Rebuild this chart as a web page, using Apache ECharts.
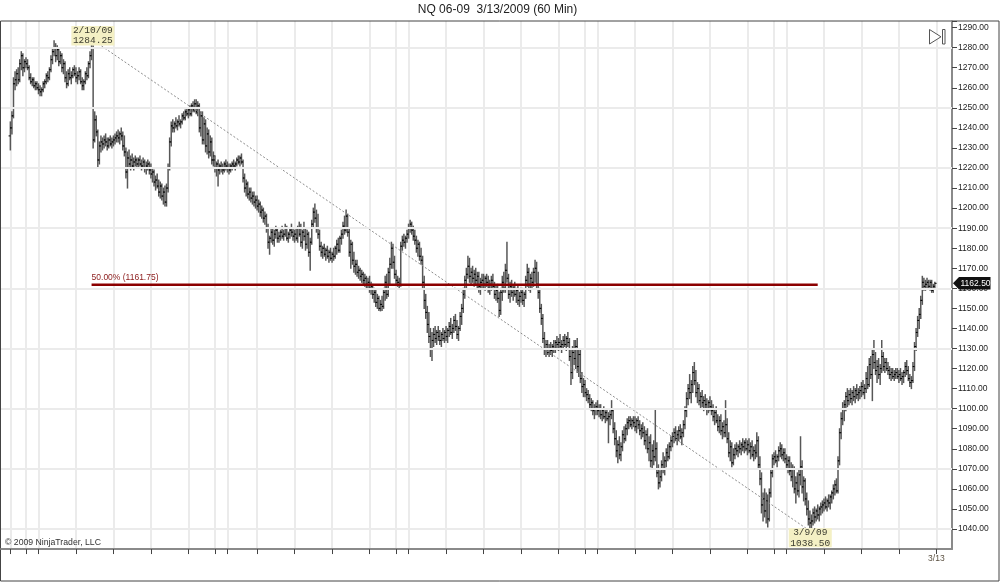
<!DOCTYPE html>
<html><head><meta charset="utf-8">
<script src="https://cdn.jsdelivr.net/npm/echarts/dist/echarts.min.js"></script>
<style>html,body{margin:0;padding:0;background:#fff}#c{width:1000px;height:582px}</style>
</head><body><div id="c"></div>
<script>
// 60-minute OHLC bars, one array per session day: [open, high, low, close]
const d0206 = [[1236,1243,1229,1240],[1240,1248,1237,1246],[1246,1265,1245,1262],[1262,1268,1259,1264],[1264,1269,1261,1267],[1267,1270,1262,1264],[1264,1274,1263,1272],[1272,1278,1269,1276],[1276,1277,1266,1270],[1270,1274,1268,1273]];
const d0208 = [[1273,1275,1270,1272],[1272,1274,1269,1270],[1270,1271,1264,1265],[1265,1267,1262,1263],[1263,1265,1261,1264],[1264,1265,1260,1261],[1261,1263,1259,1262],[1262,1263,1259,1260]];
const d0209 = [[1260,1262,1257,1259],[1259,1261,1256,1258],[1258,1260,1256,1259],[1259,1263,1258,1262],[1262,1264,1260,1263],[1263,1267,1262,1266],[1266,1268,1263,1265],[1265,1270,1264,1269],[1269,1276,1268,1274],[1274,1280,1272,1278],[1278,1283.5,1276,1280],[1280,1282,1273,1276],[1276,1281,1274,1279],[1279,1280,1271,1273],[1273,1278,1272,1276],[1276,1277,1268,1270],[1270,1274,1267,1272],[1272,1273,1263,1265],[1265,1268,1260,1262],[1262,1269,1261,1267],[1267,1270,1264,1265],[1265,1268,1262,1266],[1266,1270,1265,1269],[1269,1271,1266,1267]];
const d0210 = [[1267,1270,1263,1265],[1265,1268,1262,1266],[1266,1270,1264,1268],[1268,1269,1262,1263],[1263,1265,1259,1261],[1261,1264,1259,1263],[1263,1268,1262,1267],[1267,1270,1264,1266],[1266,1273,1265,1272],[1272,1278,1270,1276],[1276,1284.25,1274,1280],[1280,1281,1230,1234],[1234,1248,1233,1244],[1244,1246,1236,1238],[1238,1239,1220,1224],[1224,1233,1222,1231],[1231,1236,1228,1233],[1233,1235,1229,1232],[1232,1236,1230,1234],[1234,1237,1231,1233],[1233,1235,1229,1231],[1231,1235,1230,1234],[1234,1236,1231,1232],[1232,1235,1230,1233]];
const d0211 = [[1233,1236,1231,1234],[1234,1237,1232,1235],[1235,1238,1233,1236],[1236,1239,1233,1235],[1235,1238,1232,1237],[1237,1240,1234,1236],[1236,1238,1229,1231],[1231,1236,1226,1228],[1228,1230,1215,1218],[1218,1228,1210,1225],[1225,1229,1220,1222],[1222,1226,1219,1224],[1224,1227,1220,1221],[1221,1225,1219,1223],[1223,1226,1221,1224],[1224,1225,1220,1222],[1222,1225,1220,1224],[1224,1226,1221,1222],[1222,1224,1219,1221],[1221,1225,1220,1223],[1223,1224,1218,1220],[1220,1223,1217,1221],[1221,1224,1219,1222],[1222,1223,1217,1219]];
const d0212 = [[1219,1222,1215,1217],[1217,1220,1213,1218],[1218,1219,1211,1213],[1213,1216,1209,1214],[1214,1217,1210,1211],[1211,1214,1206,1208],[1208,1213,1205,1211],[1211,1212,1204,1206],[1206,1210,1202,1208],[1208,1211,1201,1203],[1203,1212,1201,1210],[1210,1222,1208,1220],[1220,1235,1219,1233],[1233,1243,1231,1241],[1241,1244,1238,1240],[1240,1243,1238,1242],[1242,1245,1240,1241],[1241,1244,1239,1243],[1243,1246,1241,1242],[1242,1244,1240,1243],[1243,1247,1242,1246],[1246,1248,1244,1245],[1245,1249,1244,1248],[1248,1250,1246,1247]];
const d0213 = [[1247,1250,1245,1249],[1249,1251,1246,1247],[1247,1252,1246,1251],[1251,1253,1248,1249],[1249,1254,1248,1252],[1252,1254,1247,1248],[1248,1253,1246,1251],[1251,1252,1238,1240],[1240,1248,1236,1246],[1246,1248,1232,1234],[1234,1245,1232,1242],[1242,1244,1228,1231],[1231,1240,1227,1237],[1237,1239,1225,1228],[1228,1236,1226,1233],[1233,1235,1222,1224],[1224,1228,1221,1226]];
const d0215 = [[1224,1226,1218,1220],[1220,1223,1216,1222],[1222,1224,1211,1219],[1219,1222,1217,1221],[1221,1223,1218,1220],[1220,1222,1217,1219],[1219,1223,1218,1222],[1222,1224,1219,1221]];
const d0216 = [[1221,1223,1218,1220],[1220,1222,1217,1219],[1219,1222,1218,1221],[1221,1223,1219,1222],[1222,1224,1220,1221],[1221,1223,1219,1222],[1222,1225,1221,1224],[1224,1226,1222,1223],[1223,1226,1221,1225],[1225,1227,1222,1223],[1223,1224,1213,1215],[1215,1217,1208,1210],[1210,1214,1206,1212],[1212,1213,1205,1207],[1207,1210,1204,1208],[1208,1210,1203,1205],[1205,1208,1202,1206],[1206,1208,1201,1203],[1203,1206,1200,1204]];
const d0217 = [[1204,1206,1199,1201],[1201,1204,1198,1202],[1202,1203,1196,1198],[1198,1201,1195,1199],[1199,1200,1193,1195],[1195,1198,1192,1196],[1196,1197,1188,1190],[1190,1192,1180,1183],[1183,1186,1177,1185],[1185,1190,1183,1188],[1188,1190,1182,1184],[1184,1189,1181,1187],[1187,1191,1185,1189],[1189,1190,1183,1185],[1185,1188,1183,1186],[1186,1189,1184,1188],[1188,1191,1185,1186],[1186,1189,1184,1187],[1187,1192,1186,1190],[1190,1191,1184,1185],[1185,1188,1183,1187],[1187,1190,1185,1189],[1189,1192,1186,1188],[1188,1190,1184,1186]];
const d0218 = [[1186,1189,1183,1187],[1187,1190,1184,1185],[1185,1191,1183,1190],[1190,1193,1186,1187],[1187,1192,1181,1183],[1183,1189,1180,1188],[1188,1193,1184,1186],[1186,1190,1179,1182],[1182,1189,1180,1187],[1187,1188,1176,1178],[1178,1185,1169,1183],[1183,1194,1182,1192],[1192,1200,1190,1198],[1198,1202,1193,1195],[1195,1199,1188,1190],[1190,1197,1185,1187],[1187,1189,1179,1181],[1181,1183,1176,1178],[1178,1181,1175,1180],[1180,1182,1176,1177],[1177,1180,1174,1179],[1179,1181,1175,1176],[1176,1179,1173,1178],[1178,1180,1174,1175]];
const d0219 = [[1175,1178,1173,1177],[1177,1180,1174,1176],[1176,1181,1175,1180],[1180,1184,1177,1182],[1182,1185,1178,1179],[1179,1186,1178,1185],[1185,1189,1182,1187],[1187,1193,1185,1191],[1191,1196,1187,1189],[1189,1199,1188,1196],[1196,1197,1186,1188],[1188,1190,1176,1178],[1178,1184,1170,1182],[1182,1183,1172,1174],[1174,1178,1168,1171],[1171,1174,1167,1172],[1172,1174,1166,1168],[1168,1171,1165,1169],[1169,1170,1164,1166],[1166,1169,1163,1167],[1167,1168,1162,1164],[1164,1167,1161,1165],[1165,1166,1160,1162],[1162,1165,1160,1163]];
const d0220 = [[1163,1166,1158,1160],[1160,1163,1157,1161],[1161,1162,1155,1157],[1157,1160,1153,1158],[1158,1159,1151,1153],[1153,1157,1150,1155],[1155,1156,1149,1150],[1150,1154,1148.75,1152],[1152,1156,1149,1151],[1151,1160,1150,1158],[1158,1166,1154,1163],[1163,1167,1155,1157],[1157,1170,1156,1168],[1168,1175,1162,1172],[1172,1183,1170,1180],[1180,1182,1170,1173],[1173,1176,1165,1167]];
const d0222 = [[1167,1169,1162,1164],[1164,1166,1161,1163],[1163,1165,1160,1162],[1162,1183,1161,1181],[1181,1186,1179,1184],[1184,1187,1181,1183],[1183,1186,1180,1185],[1185,1189,1183,1187]];
const d0223 = [[1187,1192,1185,1190],[1190,1194,1188,1192],[1192,1193,1187,1189],[1189,1191,1184,1186],[1186,1189,1182,1184],[1184,1186,1178,1180],[1180,1184,1176,1182],[1182,1183,1174,1176],[1176,1180,1172,1174],[1174,1176,1160,1163],[1163,1166,1150,1154],[1154,1157,1145,1148],[1148,1151,1138,1142],[1142,1148,1133,1136],[1136,1140,1126,1130],[1130,1138,1124,1134],[1134,1140,1131,1137],[1137,1141,1133,1135],[1135,1139,1132,1138],[1138,1141,1134,1136],[1136,1139,1132,1134],[1134,1138,1131,1137],[1137,1140,1134,1135],[1135,1139,1133,1138]];
const d0224 = [[1138,1141,1134,1136],[1136,1140,1133,1139],[1139,1143,1136,1141],[1141,1145,1137,1138],[1138,1142,1135,1140],[1140,1146,1138,1144],[1144,1147,1139,1141],[1141,1144,1135,1137],[1137,1141,1134,1140],[1140,1148,1139,1146],[1146,1152,1142,1150],[1150,1160,1148,1157],[1157,1166,1155,1164],[1164,1170,1160,1167],[1167,1176,1165,1171],[1171,1175,1163,1166],[1166,1170,1162,1168],[1168,1171,1163,1165],[1165,1169,1161,1167],[1167,1170,1162,1164],[1164,1168,1160,1166],[1166,1168,1158,1161],[1161,1165,1157,1163],[1163,1167,1160,1164]];
const d0225 = [[1164,1167,1160,1162],[1162,1166,1159,1165],[1165,1167,1161,1163],[1163,1166,1158,1160],[1160,1164,1157,1162],[1162,1166,1159,1164],[1164,1167,1160,1161],[1161,1163,1155,1157],[1157,1161,1154,1159],[1159,1162,1153,1155],[1155,1158,1146,1149],[1149,1160,1147,1158],[1158,1166,1154,1163],[1163,1168,1158,1160],[1160,1172,1158,1169],[1169,1183,1163,1165],[1165,1167,1155,1157],[1157,1163,1153,1161],[1161,1164,1156,1158],[1158,1161,1154,1160],[1160,1163,1156,1157],[1157,1160,1153,1159],[1159,1161,1152,1154],[1154,1158,1151,1156]];
const d0226 = [[1156,1160,1153,1158],[1158,1160,1152,1154],[1154,1158,1151,1157],[1157,1166,1155,1164],[1164,1172,1161,1168],[1168,1170,1159,1162],[1162,1167,1158,1165],[1165,1168,1160,1163],[1163,1170,1161,1168],[1168,1174,1163,1170],[1170,1173,1160,1162],[1162,1168,1155,1158],[1158,1160,1148,1150],[1150,1152,1142,1145],[1145,1147,1133,1135],[1135,1138,1127,1130],[1130,1134,1126,1132],[1132,1134,1127,1128],[1128,1132,1126,1130],[1130,1133,1127,1129],[1129,1132,1126,1131],[1131,1134,1128,1130],[1130,1134,1128,1133],[1133,1136,1130,1132]];
const d0227 = [[1132,1135,1129,1133],[1133,1137,1130,1131],[1131,1134,1128,1132],[1132,1136,1130,1134],[1134,1137,1131,1132],[1132,1136,1129,1135],[1135,1138,1131,1133],[1133,1135,1124,1126],[1126,1130,1112,1118],[1118,1131,1115,1128],[1128,1134,1122,1125],[1125,1134,1120,1131],[1131,1135,1118,1121],[1121,1130,1116,1127],[1127,1129,1113,1115],[1115,1118,1108,1111],[1111,1115,1106,1112]];
const d0301 = [[1112,1114,1106,1108],[1108,1110,1104,1107],[1107,1109,1103,1105],[1105,1107,1100,1102],[1102,1105,1099,1103],[1103,1104,1097,1099],[1099,1102,1095,1100],[1100,1103,1097,1101]];
const d0302 = [[1101,1104,1097,1099],[1099,1102,1096,1100],[1100,1102,1095,1097],[1097,1100,1094,1099],[1099,1101,1095,1096],[1096,1099,1093,1098],[1098,1100,1094,1095],[1095,1098,1083,1096],[1096,1099,1092,1097],[1097,1104,1095,1099],[1099,1100,1088,1090],[1090,1093,1082,1085],[1085,1089,1076,1079],[1079,1084,1073,1082],[1082,1086,1075,1077],[1077,1083,1074,1081],[1081,1089,1079,1087],[1087,1091,1083,1085],[1085,1092,1084,1090],[1090,1095,1087,1093],[1093,1096,1090,1094],[1094,1096,1091,1092],[1092,1095,1090,1094],[1094,1096,1091,1093]];
const d0303 = [[1093,1096,1089,1091],[1091,1095,1088,1094],[1094,1096,1090,1092],[1092,1094,1087,1089],[1089,1092,1085,1090],[1090,1093,1086,1088],[1088,1091,1082,1084],[1084,1089,1080,1087],[1087,1090,1078,1080],[1080,1086,1074,1083],[1083,1087,1071,1074],[1074,1082,1070,1079],[1079,1084,1072,1076],[1076,1100,1074,1080],[1080,1083,1066,1068],[1068,1072,1060,1063],[1063,1069,1061,1066],[1066,1074,1064,1072],[1072,1078,1068,1070],[1070,1076,1067,1074],[1074,1080,1071,1078],[1078,1082,1074,1076],[1076,1083,1075,1081],[1081,1086,1079,1084]];
const d0304 = [[1084,1088,1081,1086],[1086,1090,1083,1088],[1088,1091,1084,1085],[1085,1089,1082,1087],[1087,1091,1084,1089],[1089,1092,1085,1086],[1086,1090,1082,1088],[1088,1094,1086,1092],[1092,1101,1090,1099],[1099,1108,1096,1105],[1105,1112,1102,1110],[1110,1117,1105,1108],[1108,1114,1103,1112],[1112,1121,1108,1118],[1118,1123,1112,1114],[1114,1119,1106,1108],[1108,1113,1103,1110],[1110,1112,1102,1104],[1104,1108,1100,1106],[1106,1109,1101,1103],[1103,1106,1099,1104],[1104,1107,1100,1102],[1102,1105,1097,1100],[1100,1104,1098,1103]];
const d0305 = [[1103,1106,1099,1101],[1101,1104,1097,1099],[1099,1102,1094,1096],[1096,1100,1092,1098],[1098,1101,1093,1094],[1094,1097,1089,1091],[1091,1096,1088,1094],[1094,1097,1087,1089],[1089,1093,1085,1091],[1091,1094,1086,1088],[1088,1104,1086,1092],[1092,1095,1083,1085],[1085,1088,1076,1078],[1078,1084,1074,1081],[1081,1083,1071,1073],[1073,1080,1072,1077],[1077,1082,1075,1080],[1080,1083,1077,1079],[1079,1082,1076,1081],[1081,1084,1078,1080],[1080,1083,1077,1082],[1082,1085,1079,1081],[1081,1084,1078,1083],[1083,1085,1079,1080]];
const d0306 = [[1080,1084,1077,1082],[1082,1085,1078,1079],[1079,1083,1075,1081],[1081,1084,1076,1077],[1077,1081,1074,1079],[1079,1082,1075,1078],[1078,1088,1076,1084],[1084,1086,1070,1072],[1072,1076,1062,1065],[1065,1068,1048,1052],[1052,1058,1044,1055],[1055,1060,1046,1049],[1049,1058,1043,1054],[1054,1057,1041,1045],[1045,1060,1044,1058],[1058,1070,1056,1068],[1068,1077,1066,1075]];
const d0308 = [[1075,1078,1072,1076],[1076,1079,1073,1074],[1074,1077,1071,1076],[1076,1081,1074,1079],[1079,1083,1076,1080],[1080,1082,1075,1077],[1077,1080,1074,1078],[1078,1080,1073,1075]];
const d0309 = [[1075,1077,1070,1072],[1072,1076,1068,1074],[1074,1076,1067,1069],[1069,1073,1064,1066],[1066,1072,1061,1070],[1070,1071,1058,1060],[1060,1066,1053,1063],[1063,1068,1057,1059],[1059,1070,1056,1067],[1067,1086,1062,1071],[1071,1074,1058,1061],[1061,1066,1054,1064],[1064,1065,1052,1055],[1055,1058,1047,1050],[1050,1054,1042,1045],[1045,1049,1040,1043],[1043,1047,1038.5,1044],[1044,1050,1042,1048],[1048,1051,1043,1046],[1046,1050,1044,1049],[1049,1052,1045,1047],[1047,1051,1044,1050],[1050,1053,1047,1051],[1051,1054,1048,1052]];
const d0310 = [[1052,1055,1049,1053],[1053,1056,1050,1051],[1051,1055,1049,1054],[1054,1057,1051,1053],[1053,1057,1050,1056],[1056,1059,1053,1058],[1058,1062,1055,1060],[1060,1064,1057,1062],[1062,1065,1058,1059],[1059,1076,1058,1074],[1074,1090,1072,1088],[1088,1098,1085,1095],[1095,1103,1092,1100],[1100,1104,1094,1102],[1102,1108,1099,1106],[1106,1110,1101,1104],[1104,1109,1102,1107],[1107,1110,1103,1105],[1105,1109,1102,1108],[1108,1111,1104,1106],[1106,1110,1103,1109],[1109,1112,1105,1107],[1107,1110,1104,1108],[1108,1111,1105,1109]];
const d0311 = [[1109,1113,1106,1111],[1111,1114,1107,1108],[1108,1112,1105,1110],[1110,1118,1108,1115],[1115,1121,1110,1112],[1112,1125,1111,1122],[1122,1126,1115,1117],[1117,1130,1104,1127],[1127,1134,1120,1123],[1123,1128,1117,1119],[1119,1124,1113,1121],[1121,1125,1115,1117],[1117,1122,1112,1120],[1120,1134,1118,1126],[1126,1128,1119,1121],[1121,1125,1118,1123],[1123,1125,1119,1120],[1120,1123,1117,1119],[1119,1121,1115,1117],[1117,1120,1114,1118],[1118,1120,1115,1116],[1116,1119,1114,1117],[1117,1120,1115,1118],[1118,1120,1115,1116]];
const d0312 = [[1116,1119,1113,1117],[1117,1120,1114,1115],[1115,1118,1112,1116],[1116,1119,1113,1118],[1118,1123,1116,1121],[1121,1124,1117,1119],[1119,1121,1114,1115],[1115,1117,1111,1113],[1113,1116,1110,1114],[1114,1123,1113,1121],[1121,1133,1119,1131],[1131,1140,1129,1138],[1138,1146,1136,1144],[1144,1150,1140,1147],[1147,1156,1145,1154],[1154,1166,1152,1163],[1163,1165,1159,1161],[1161,1164,1159,1162],[1162,1165,1160,1163],[1163,1164,1160,1161],[1161,1164,1159,1163],[1163,1164,1158,1159],[1159,1162,1158,1161],[1161,1163,1160,1162.5]];

const sessions = [d0206,d0208,d0209,d0210,d0211,d0212,d0213,d0215,d0216,d0217,d0218,d0219,d0220,d0222,d0223,d0224,d0225,d0226,d0227,d0301,d0302,d0303,d0304,d0305,d0306,d0308,d0309,d0310,d0311,d0312];
const endTickLabel = '3/13';

// annotations
const swingHigh = {bar: 52, value: 1284.25, date: '2/10/09', text: '1284.25'};
const swingLow  = {bar: 513, value: 1038.5, date: '3/9/09', text: '1038.50'};
const fibLevel = 1161.75, fibLabel = '50.00% (1161.75)', fibEndBar = 517;
const gridLevels = [1040,1070,1100,1130,1160,1190,1220,1250,1280];
const lastPriceText = '1162.50';

// axis layout: leading/trailing empty slots on the time axis
const leadSlots = 6, totalSlots = 610;

const bars = [];
const tickSlots = [];
let k = leadSlots;
sessions.forEach(s => { tickSlots.push(k); s.forEach(b => { bars.push([k, b[0], b[1], b[2], b[3]]); k++; }); });
tickSlots.push(k);
const labelSlot = k;
const tickSet = new Set(tickSlots);
const cats = [];
for (let i = 0; i < totalSlots; i++) cats.push(String(i));
const lastClose = bars[bars.length - 1][4];

const FONT = 'Liberation Sans, Arial, sans-serif';

function renderOHLC(params, api) {
  const x0 = api.value(0);
  const pH = api.coord([x0, api.value(2)]);
  const pL = api.coord([x0, api.value(3)]);
  const yO = api.coord([x0, api.value(1)])[1];
  const yC = api.coord([x0, api.value(4)])[1];
  const x = pH[0];
  return {type: 'group', children: [
    {type: 'line', shape: {x1: x, y1: pH[1] - 0.5, x2: x, y2: pL[1] + 0.5}, style: {stroke: '#575757', lineWidth: 1.5}},
    {type: 'line', shape: {x1: x - 1.8, y1: yO, x2: x, y2: yO}, style: {stroke: '#000', lineWidth: 1}},
    {type: 'line', shape: {x1: x, y1: yC, x2: x + 1.8, y2: yC}, style: {stroke: '#000', lineWidth: 1}}
  ]};
}

const chart = echarts.init(document.getElementById('c'), null, {renderer: 'canvas'});
chart.setOption({
  animation: false,
  backgroundColor: '#fff',
  grid: {left: 1, right: 48, top: 21, bottom: 32.95, containLabel: false},
  xAxis: {
    type: 'category', data: cats, boundaryGap: false,
    axisLine: {show: true, lineStyle: {color: '#8a8a8a', width: 2}},
    axisTick: {show: true, length: 5, interval: (i) => tickSet.has(i), lineStyle: {color: '#444', width: 1}},
    splitLine: {show: true, interval: (i) => tickSet.has(i), lineStyle: {color: '#ebebeb', width: 2}},
    axisLabel: {show: true, interval: (i) => i === labelSlot, formatter: (v, i) => (Number(v) === labelSlot ? endTickLabel : ''),
      color: '#5a5040', fontSize: 8.5, fontFamily: FONT, margin: 5}
  },
  yAxis: {
    type: 'value', position: 'right', min: 1030, max: 1293.3, interval: 10, scale: false,
    axisLine: {show: true, lineStyle: {color: '#8a8a8a', width: 2}},
    axisTick: {show: true, length: 5, lineStyle: {color: '#444', width: 1}},
    axisLabel: {formatter: (v) => (v % 10 === 0 && v >= 1040 && v <= 1290) ? v.toFixed(2) : '',
      color: '#222', fontSize: 8.5, fontFamily: FONT, margin: 6, showMinLabel: false},
    splitLine: {show: false}
  },
  series: [
    {type: 'line', name: 'grid', data: [], z: 1, silent: true,
     markLine: {silent: true, symbol: ['none', 'none'], label: {show: false},
       lineStyle: {color: '#ebebeb', width: 2, type: 'solid'},
       data: gridLevels.map(v => ({yAxis: v}))}},
    {type: 'custom', name: 'NQ 06-09', renderItem: renderOHLC, data: bars, z: 2,
     encode: {x: 0, y: [1, 2, 3, 4]}, clip: true},
    {type: 'line', name: 'trend', z: 3, silent: true, symbol: 'none',
     data: [[swingHigh.bar + leadSlots, swingHigh.value], [swingLow.bar + leadSlots, swingLow.value]],
     lineStyle: {color: '#8c8c8c', width: 1, type: [2, 2]}},
    {type: 'line', name: 'fib', z: 4, silent: true, symbol: 'none',
     data: [[swingHigh.bar + leadSlots, fibLevel], [fibEndBar + leadSlots, fibLevel]],
     lineStyle: {color: '#8b0000', width: 2.5},
     markPoint: {symbol: 'circle', symbolSize: 0, silent: true,
       label: {show: true, position: 'right', distance: 0, offset: [0, -7], color: '#8b1a1a', fontSize: 8.5, fontFamily: FONT, formatter: fibLabel},
       data: [{coord: [swingHigh.bar + leadSlots, fibLevel]}]}},
    {type: 'scatter', name: 'swings', z: 5, silent: true, symbol: 'rect',
     itemStyle: {color: '#f4f0c4', opacity: 1},
     label: {show: true, position: 'inside', color: '#3c3c30', fontFamily: 'Liberation Mono, DejaVu Sans Mono, monospace', fontSize: 9.5, lineHeight: 10.5},
     data: [
       {value: [swingHigh.bar + leadSlots, swingHigh.value], symbolSize: [43, 19.5], symbolOffset: [1.3, -3.5],
        label: {formatter: swingHigh.date + '\n' + swingHigh.text}},
       {value: [swingLow.bar + leadSlots, swingLow.value], symbolSize: [43, 19], symbolOffset: [-1.2, 5.8],
        label: {formatter: swingLow.date + '\n' + swingLow.text}}
     ]}
  ]
});

const py = chart.convertToPixel({yAxisIndex: 0}, lastClose);
const pxr = chart.convertToPixel({xAxisIndex: 0}, totalSlots - 1);
chart.setOption({graphic: [
  {type: 'rect', silent: true, z: 0, shape: {x: 0.5, y: 21, width: 998.5, height: 560}, style: {fill: 'none', stroke: '#444', lineWidth: 1}},
  {type: 'text', silent: true, x: 497.5, y: 10, style: {text: 'NQ 06-09  3/13/2009 (60 Min)', font: '12px ' + FONT, fill: '#222', textAlign: 'center', textVerticalAlign: 'middle'}},
  {type: 'text', silent: true, x: 5, y: 543, style: {text: '\u00a9 2009 NinjaTrader, LLC', font: '8.7px ' + FONT, fill: '#333', textVerticalAlign: 'middle'}},
  {type: 'polygon', silent: true, shape: {points: [[929.5, 29.5], [929.5, 44], [941, 36.8]]}, style: {fill: '#fff', stroke: '#555', lineWidth: 1}},
  {type: 'rect', silent: true, shape: {x: 942.5, y: 29.5, width: 2.5, height: 14.5}, style: {fill: '#fff', stroke: '#555', lineWidth: 1}},
  {type: 'polygon', silent: true, z: 10, shape: {points: [[pxr + 1, py], [pxr + 7, py - 6.2], [pxr + 38.5, py - 6.2], [pxr + 38.5, py + 6.2], [pxr + 7, py + 6.2]]}, style: {fill: '#111'}},
  {type: 'text', silent: true, z: 11, x: pxr + 8.5, y: py, style: {text: lastPriceText, font: '8.5px ' + FONT, fill: '#fff', textVerticalAlign: 'middle'}}
]});
</script></body></html>
